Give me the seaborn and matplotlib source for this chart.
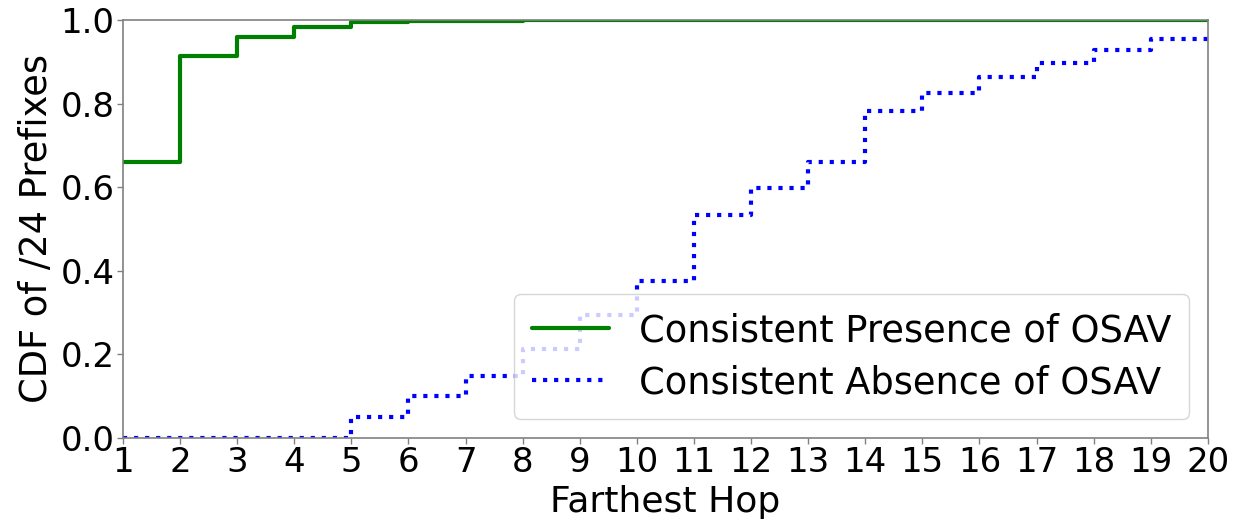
import pandas as pd
import matplotlib
matplotlib.use("Agg")
import matplotlib.pyplot as plt
import seaborn as sns

# --- data (step CDFs, value holds until next hop) ---
hops_presence = [1, 2, 3, 4, 5, 6, 8, 9, 20]
cdf_presence = [0.659, 0.914, 0.960, 0.984, 0.994, 0.997, 0.999, 1.0, 1.0]

hops_absence = [1, 5, 6, 7, 8, 9, 10, 11, 12, 13, 14, 15, 16, 17, 18, 19, 20]
cdf_absence = [0.0, 0.051, 0.100, 0.147, 0.213, 0.293, 0.376, 0.533, 0.597,
               0.661, 0.781, 0.825, 0.863, 0.896, 0.927, 0.954, 0.954]

labels = ["Consistent Presence of OSAV", "Consistent Absence of OSAV"]
xticks = list(range(1, 21))
yticks = [0.0, 0.2, 0.4, 0.6, 0.8, 1.0]

sns.set_style("white")
plt.rcParams["font.family"] = ["DejaVu Sans"]
plt.rcParams["text.color"] = "black"
plt.rcParams["axes.labelcolor"] = "black"
plt.rcParams["xtick.color"] = "black"
plt.rcParams["ytick.color"] = "black"

df_p = pd.DataFrame({"hop": hops_presence, "cdf": cdf_presence})
df_a = pd.DataFrame({"hop": hops_absence, "cdf": cdf_absence})

fig, ax = plt.subplots(figsize=(12.35, 5.25), dpi=100)
fig.subplots_adjust(left=0.0996, right=0.978, top=0.962, bottom=0.166)

sns.lineplot(data=df_p, x="hop", y="cdf", ax=ax, color="green", lw=3,
             drawstyle="steps-post", label=labels[0])
sns.lineplot(data=df_a, x="hop", y="cdf", ax=ax, color="blue", lw=3,
             linestyle=":", drawstyle="steps-post", label=labels[1])

ax.set_xlim(1, 20)
ax.set_ylim(0, 1)
ax.set_xticks(xticks)
ax.set_yticks(yticks)
ax.set_xticklabels([str(t) for t in xticks])
ax.set_yticklabels([f"{t:.1f}" for t in yticks])
ax.tick_params(axis="both", labelsize=24.5, length=4, width=1,
               bottom=True, left=True, pad=2)
ax.tick_params(axis="both", color="gray")
for s in ax.spines.values():
    s.set_color("gray")
    s.set_linewidth(1.2)

ax.set_xlabel("Farthest Hop", fontsize=26, labelpad=4)
ax.set_ylabel("CDF of /24 Prefixes", fontsize=26.5, labelpad=4)

ax.legend(loc="lower right", fontsize=26.5, framealpha=0.8,
          labelspacing=0.4, handlelength=2.1, borderpad=0.5)

fig.savefig("out.png", dpi=100)
